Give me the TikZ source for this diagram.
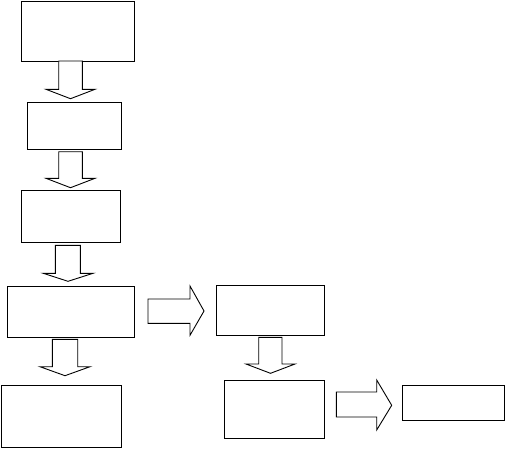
\documentclass[tikz,border=0pt]{standalone}
\begin{document}
\begin{tikzpicture}[x=1pt,y=-1pt,
  box/.style={draw=black,line width=1pt,fill=white,rectangle,inner sep=0pt},
  blockarrow/.style={draw=black,line width=0.9pt,fill=white,line join=miter}]
\useasboundingbox (0,0) rectangle (506,448);
\fill[white] (0,0) rectangle (506,448);
% boxes
\node[box,minimum width=113pt,minimum height=60pt] (b1) at (77.8,31.3) {};
\node[box,minimum width=94pt,minimum height=47pt] (b2) at (74.3,125.8) {};
\node[box,minimum width=99.4pt,minimum height=52pt] (b3) at (71,216) {};
\node[box,minimum width=127.4pt,minimum height=51pt] (b4) at (71,311.5) {};
\node[box,minimum width=119.6pt,minimum height=62pt] (b5) at (61.5,416.3) {};
\node[box,minimum width=108.4pt,minimum height=50.3pt] (b6) at (270.5,310.2) {};
\node[box,minimum width=100.4pt,minimum height=58.3pt] (b7) at (274.5,409.2) {};
\node[box,minimum width=102.4pt,minimum height=35pt] (b8) at (453.5,402.8) {};
% down block arrows
\draw[blockarrow] (58.7,61) -- (82.3,61) -- (82.3,89.3) -- (95,89.3) -- (70.5,98.7) -- (46,89.3) -- (58.7,89.3) -- cycle;
\draw[blockarrow] (58.7,151.7) -- (82.3,151.7) -- (82.3,178.3) -- (95,178.3) -- (70.5,187.7) -- (46,178.3) -- (58.7,178.3) -- cycle;
\draw[blockarrow] (55.3,245.3) -- (80.3,245.3) -- (80.3,273.3) -- (93,273.3) -- (68,281.3) -- (43.3,273.3) -- (55.3,273.3) -- cycle;
\draw[blockarrow] (52.3,339.3) -- (77.7,339.3) -- (77.7,366.7) -- (90,366.7) -- (65,375.7) -- (40,366.7) -- (52.3,366.7) -- cycle;
\draw[blockarrow] (258.7,337.3) -- (282,337.3) -- (282,364) -- (295,364) -- (270.5,373.3) -- (246,364) -- (258.7,364) -- cycle;
% right block arrows
\draw[blockarrow] (148,299) -- (190,299) -- (190,286) -- (204,311) -- (190,335.3) -- (190,323.3) -- (148,323.3) -- cycle;
\draw[blockarrow] (336.3,392) -- (376.7,392) -- (376.7,380) -- (391.7,405.3) -- (376.7,430) -- (376.7,417) -- (336.3,417) -- cycle;
\end{tikzpicture}
\end{document}
